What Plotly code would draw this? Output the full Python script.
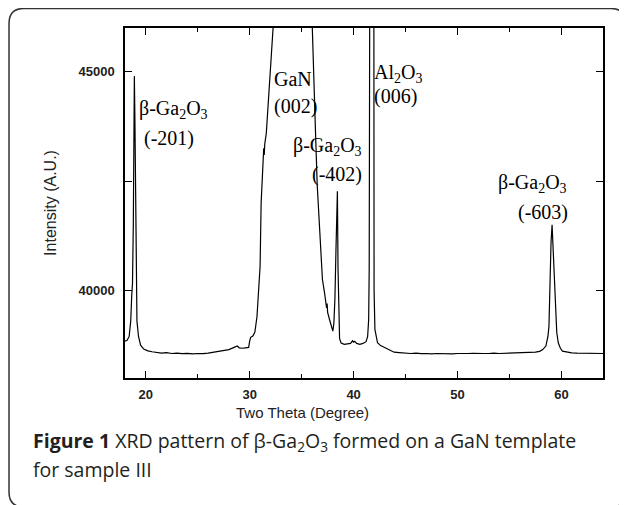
import plotly.graph_objects as go

# ---- data (two theta in degrees, intensity in a.u.) ----
two_theta = [
    18.0, 18.2, 18.4, 18.55, 18.65, 18.72, 18.8, 18.85, 18.9, 18.95, 19.0, 19.05, 19.15, 19.3, 19.5, 19.8,
    20.2, 20.6, 21.0, 21.5, 22.0, 22.5, 23.0, 23.5, 24.0, 24.5, 25.0, 25.5, 26.0, 26.5, 27.0, 27.5,
    28.0, 28.5, 28.8, 29.0, 29.3, 29.6, 29.9, 30.0, 30.1, 30.3, 30.5, 30.7, 30.85, 31.0, 31.1, 31.25,
    31.35, 31.4, 31.45, 31.6, 31.8, 32.0, 32.25, 32.5, 33.0, 34.5, 35.5, 36.0, 36.1, 36.25, 36.35, 36.5,
    36.6, 36.8, 37.0, 37.2, 37.35, 37.4, 37.45, 37.5, 37.7, 37.9, 38.0, 38.1, 38.2, 38.3, 38.38, 38.44,
    38.5, 38.55, 38.65, 38.8, 39.1, 39.4, 39.7, 39.9, 40.0, 40.1, 40.3, 40.6, 40.9, 41.2, 41.35, 41.45,
    41.5, 41.55, 41.6, 41.9, 41.95, 41.97, 42.05, 42.3, 42.6, 43.0, 43.4, 43.9, 44.4, 45.0, 45.5, 46.0,
    46.5, 47.0, 47.5, 48.0, 48.5, 49.0, 49.5, 50.0, 50.5, 51.0, 51.5, 52.0, 52.5, 53.0, 53.5, 54.0,
    54.5, 55.0, 55.5, 56.0, 56.5, 57.0, 57.5, 57.9, 58.2, 58.5, 58.7, 58.8, 58.9, 59.0, 59.1, 59.2,
    59.3, 59.45, 59.55, 59.7, 59.9, 60.1, 60.5, 61.0, 61.5, 62.0, 62.5, 63.0, 63.65, 64.0,
]
intensity = [
    38840, 38860, 38950, 39300, 39900, 40150, 41500, 44000, 44900, 44000, 42500, 40300, 39300, 38950, 38750, 38660,
    38620, 38600, 38590, 38570, 38580, 38560, 38570, 38555, 38565, 38550, 38560, 38555, 38570, 38590, 38610, 38630,
    38650, 38700, 38730, 38690, 38680, 38690, 38700, 38850, 38930, 38960, 39050, 39400, 39900, 40550, 42000, 42700,
    43250, 43100, 43350, 43600, 44300, 45200, 46000, 47500, 49000, 50000, 49000, 46200, 45500, 44660, 43500, 42400,
    41900, 41000, 40250, 39950, 39750, 39600, 39700, 39500, 39320, 39150, 39070, 39250, 39800, 40900, 41600, 42270,
    40500, 39500, 38900, 38800, 38770, 38780, 38790, 38850, 38820, 38840, 38790, 38770, 38790, 38830, 38950, 39340,
    40500, 46500, 50000, 50000, 46500, 40000, 39110, 38805, 38740, 38690, 38640, 38590, 38580, 38565, 38560, 38570,
    38555, 38560, 38550, 38560, 38555, 38560, 38550, 38560, 38555, 38560, 38565, 38555, 38560, 38560, 38570, 38560,
    38565, 38560, 38570, 38575, 38570, 38580, 38590, 38610, 38650, 38730, 38950, 39185, 40330, 41100, 41500, 41000,
    40180, 39400, 39040, 38800, 38680, 38615, 38590, 38575, 38570, 38565, 38560, 38565, 38560, 38560,
]

x_ticks = [20, 30, 40, 50, 60]
y_ticks = [40000, 45000]

peak_labels = [
    "β-Ga<sub>2</sub>O<sub>3</sub>", "(-201)",
    "GaN", "(002)",
    "β-Ga<sub>2</sub>O<sub>3</sub>", "(-402)",
    "Al<sub>2</sub>O<sub>3</sub>", "(006)",
    "β-Ga<sub>2</sub>O<sub>3</sub>", "(-603)",
]

# ---- layout geometry (reference-page pixels; page body has an 8px margin) ----
OFF = 8
W, H = 627 - OFF, 505 - OFF
L, R, T, B = 125, 603, 28, 378


def px(x):
    return (x - L) / (R - L)


def py(y):
    return (B - y) / (B - T)


label_pos = [(137, 109), (142, 138), (272, 79), (272, 106), (291, 146),
             (310, 174), (372, 73), (372, 96), (496, 183), (516, 212)]

fig = go.Figure()
fig.add_trace(go.Scatter(x=two_theta, y=intensity, mode="lines",
                         line=dict(color="black", width=1.2), showlegend=False))

annotations = []
for txt, (ax, ay) in zip(peak_labels, label_pos):
    annotations.append(dict(x=px(ax), y=py(ay), xref="paper", yref="paper", text=txt,
                            showarrow=False, xanchor="left", yanchor="middle",
                            font=dict(family="Liberation Serif", size=20, color="black")))

annotations.append(dict(x=px(302), y=py(412), xref="paper", yref="paper",
                        text="Two Theta (Degree)", showarrow=False,
                        xanchor="center", yanchor="middle",
                        font=dict(family="Liberation Sans", size=15, color="#222222")))

annotations.append(dict(x=px(31), y=py(441), xref="paper", yref="paper",
                        text="<b>Figure 1</b> XRD pattern of β-Ga<sub>2</sub>O<sub>3</sub> formed on a GaN template",
                        showarrow=False, xanchor="left", yanchor="middle", align="left",
                        font=dict(family="Open Sans", size=19.5, color="#231f20")))
annotations.append(dict(x=px(31), y=py(469), xref="paper", yref="paper",
                        text="for sample III",
                        showarrow=False, xanchor="left", yanchor="middle", align="left",
                        font=dict(family="Open Sans", size=19.5, color="#231f20")))

# rounded border box (reference pixels)
bx0, by0, bx1, by1, rr = 9, 8.5, 626, 507, 15
rx = rr / (R - L)
ry = rr / (B - T)
X0, X1 = px(bx0), px(bx1)
Y0, Y1 = py(by1), py(by0)
path = (f"M {X0+rx},{Y1} L {X1-rx},{Y1} Q {X1},{Y1} {X1},{Y1-ry} "
        f"L {X1},{Y0+ry} Q {X1},{Y0} {X1-rx},{Y0} L {X0+rx},{Y0} Q {X0},{Y0} {X0},{Y0+ry} "
        f"L {X0},{Y1-ry} Q {X0},{Y1} {X0+rx},{Y1} Z")

tick_font = dict(family="Liberation Sans", size=13, color="#222222", weight="bold")

fig.update_layout(
    width=W, height=H,
    margin=dict(l=L - OFF, r=W - (R - OFF), t=T - OFF, b=H - (B - OFF)),
    paper_bgcolor="white", plot_bgcolor="white",
    annotations=annotations,
    shapes=[dict(type="path", path=path, xref="paper", yref="paper",
                 line=dict(color="#333333", width=1.5), layer="below")],
    xaxis=dict(range=[18, 64], tickvals=x_ticks, ticks="inside", ticklen=7, tickwidth=1.2,
               tickcolor="black", showline=True, linecolor="black", linewidth=1.5, mirror="ticks",
               showgrid=False, zeroline=False, ticklabelstandoff=4,
               minor=dict(dtick=5, tick0=0, ticks="inside", ticklen=4, tickcolor="black", showgrid=False),
               tickfont=tick_font),
    yaxis=dict(range=[38000, 46000], tickvals=y_ticks, ticks="inside", ticklen=7, tickwidth=1.2,
               tickcolor="black", showline=True, linecolor="black", linewidth=1.5, mirror="ticks",
               showgrid=False, zeroline=False, tickformat="d", ticklabelstandoff=6,
               minor=dict(dtick=2500, tick0=0, ticks="inside", ticklen=7, tickcolor="black", showgrid=False),
               tickfont=tick_font,
               title=dict(text="Intensity (A.U.)", standoff=18,
                          font=dict(family="Liberation Sans", size=16, color="#222222"))),
)

fig.write_html("out.html")
